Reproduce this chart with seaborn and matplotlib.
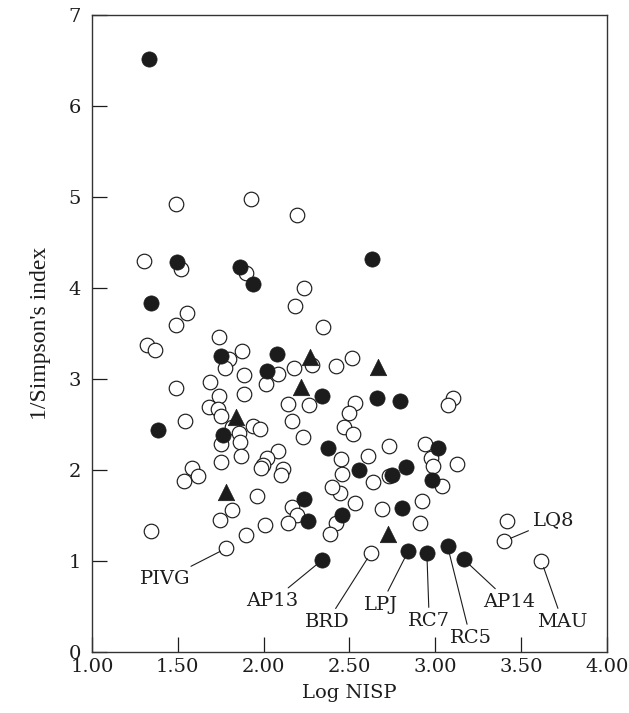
import pandas as pd
import seaborn as sns
import matplotlib.pyplot as plt

# open circles
open_x = [1.492, 1.928, 2.196, 1.304, 1.517, 1.899, 2.238, 2.184, 1.556, 1.492, 2.349,
          1.740, 1.322, 1.366, 1.876, 1.798, 2.280, 1.773, 1.884, 2.083, 2.180, 2.422, 2.515,
          1.686, 2.016, 1.492, 1.740, 1.886, 2.145, 2.262, 1.680, 1.734, 1.750, 1.815,
          1.544, 2.165, 2.535, 2.496, 2.467, 2.519, 1.938, 1.977, 1.855, 2.229, 1.754, 1.860,
          2.083, 2.021, 1.996, 1.986, 1.754, 1.866, 2.112, 2.099, 1.583, 1.618, 1.537, 1.961,
          2.166, 2.193, 2.422, 2.387, 2.455, 2.452, 2.446, 2.397, 1.818, 1.748, 2.006, 2.142,
          1.895, 1.343, 1.783, 2.626, 2.729, 2.942, 2.974, 2.984, 3.124, 2.606, 2.635, 2.733,
          3.037, 2.535, 2.922, 2.688, 2.913, 3.416, 3.401, 3.618, 3.101, 3.072]
open_y = [4.92, 4.98, 4.80, 4.30, 4.21, 4.17, 4.00, 3.80, 3.73, 3.59, 3.57,
          3.46, 3.37, 3.32, 3.31, 3.22, 3.15, 3.12, 3.05, 3.06, 3.12, 3.14, 3.23,
          2.97, 2.95, 2.90, 2.81, 2.84, 2.73, 2.71, 2.69, 2.67, 2.59, 2.47,
          2.54, 2.54, 2.74, 2.63, 2.47, 2.40, 2.48, 2.45, 2.41, 2.36, 2.29, 2.31,
          2.21, 2.13, 2.06, 2.02, 2.09, 2.15, 2.01, 1.95, 2.02, 1.94, 1.88, 1.71,
          1.59, 1.51, 1.42, 1.30, 1.96, 2.12, 1.75, 1.81, 1.56, 1.45, 1.40, 1.42,
          1.29, 1.33, 1.14, 1.09, 2.26, 2.29, 2.13, 2.05, 2.07, 2.15, 1.87, 1.93,
          1.83, 1.64, 1.66, 1.57, 1.42, 1.44, 1.22, 1.00, 2.79, 2.71]

# filled circles
filled_x = [1.331, 1.496, 1.864, 1.938, 1.343, 1.750, 2.079, 2.021, 2.341, 1.386,
            1.764, 2.374, 2.632, 2.659, 2.794, 3.014, 2.558, 2.748, 2.829, 2.980,
            2.806, 2.238, 2.258, 2.457, 2.341, 2.843, 2.951, 3.072, 3.165]
filled_y = [6.52, 4.29, 4.23, 4.05, 3.84, 3.25, 3.28, 3.09, 2.81, 2.44,
            2.38, 2.24, 4.32, 2.79, 2.76, 2.24, 2.00, 1.95, 2.03, 1.89,
            1.58, 1.68, 1.44, 1.51, 1.01, 1.11, 1.09, 1.16, 1.02]

# triangles
tri_x = [2.271, 2.219, 1.841, 1.779, 2.669, 2.723]
tri_y = [3.24, 2.91, 2.58, 1.76, 3.13, 1.30]

# labelled assemblages
label_names = ['PIVG', 'AP13', 'BRD', 'LPJ', 'RC7', 'RC5', 'AP14', 'MAU', 'LQ8']
label_x = [1.783, 2.341, 2.626, 2.843, 2.951, 3.072, 3.165, 3.618, 3.401]
label_y = [1.14, 1.01, 1.09, 1.11, 1.09, 1.16, 1.02, 1.00, 1.22]
text_pos = {'PIVG': (1.43, 0.80), 'AP13': (2.05, 0.56), 'BRD': (2.37, 0.33),
            'LPJ': (2.684, 0.52), 'RC7': (2.965, 0.34), 'RC5': (3.205, 0.155),
            'AP14': (3.432, 0.55), 'MAU': (3.742, 0.33), 'LQ8': (3.69, 1.45)}

sns.set_style('ticks')
plt.rcParams['font.family'] = ['DejaVu Serif']

fig = plt.figure(figsize=(6.29, 7.13), dpi=100)
ax = fig.add_axes([0.146, 0.0856, 0.819, 0.893])

ink = '#1c1c1c'
sns.scatterplot(x=open_x, y=open_y, marker='o', s=110, facecolor='white',
                edgecolor=ink, linewidth=0.85, ax=ax, zorder=3)
sns.scatterplot(x=tri_x, y=tri_y, marker='^', s=140, color=ink, edgecolor=ink,
                linewidth=0.5, ax=ax, zorder=4)
sns.scatterplot(x=filled_x, y=filled_y, marker='o', s=120, color=ink,
                edgecolor=ink, linewidth=0.5, ax=ax, zorder=5)

for name, px, py in zip(label_names, label_x, label_y):
    ax.annotate(name, xy=(px, py), xytext=text_pos[name], ha='center', va='center',
                fontsize=14, color=ink,
                arrowprops=dict(arrowstyle='-', lw=0.8, color=ink, shrinkA=1, shrinkB=5))

ax.set_xlim(1, 4)
ax.set_ylim(0, 7)
ax.set_xticks([1.0, 1.5, 2.0, 2.5, 3.0, 3.5, 4.0])
ax.set_xticklabels(['1.00', '1.50', '2.00', '2.50', '3.00', '3.50', '4.00'])
ax.set_yticks(range(0, 8))
ax.tick_params(direction='in', length=11, width=0.9, labelsize=14, colors=ink)
ax.tick_params(axis='x', pad=4)
ax.tick_params(axis='y', pad=8)
for sp in ax.spines.values():
    sp.set_linewidth(1.0)
    sp.set_color('#333333')

ax.set_xlabel('Log NISP', fontsize=14, labelpad=6, color=ink)
ax.set_ylabel("1/Simpson's index", fontsize=17, family='Liberation Serif', color=ink)
ax.yaxis.set_label_coords(-0.08, 0.5)

fig.savefig('out.png', dpi=100)
